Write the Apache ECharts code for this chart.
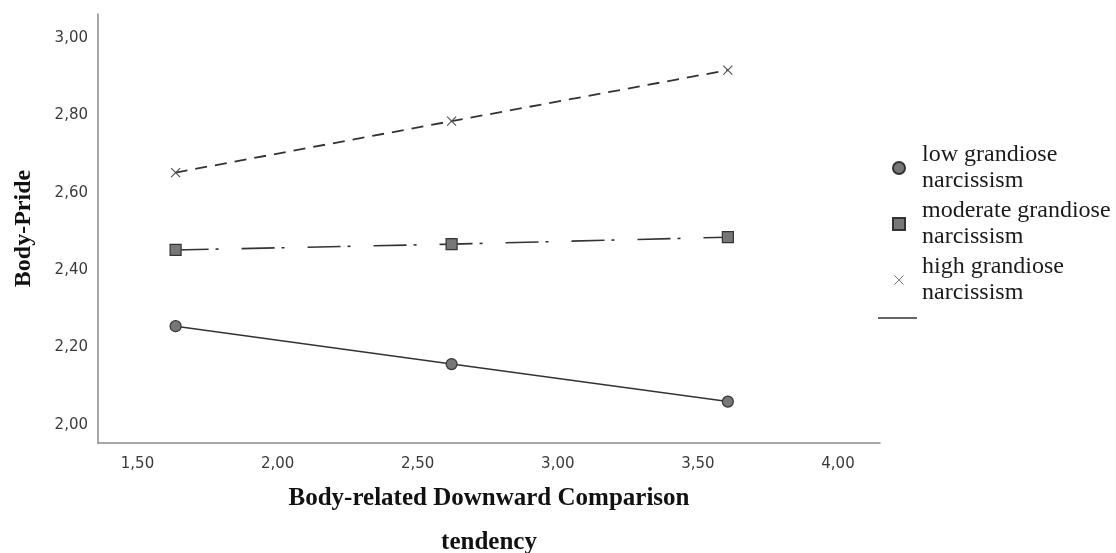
<!DOCTYPE html>
<html>
<head>
<meta charset="utf-8">
<script src="https://cdn.jsdelivr.net/npm/echarts@6/dist/echarts.min.js"></script>
<style>
html,body{margin:0;padding:0;background:#fff;}
#chart{width:1116px;height:553px;}
</style>
</head>
<body>
<div id="chart"></div>
<script>
// Data
const xValues = [1.636, 2.621, 3.607];
const seriesNames = ['low grandiose\nnarcissism', 'moderate grandiose\nnarcissism', 'high grandiose\nnarcissism'];
const lowValues = [2.255, 2.157, 2.060];
const moderateValues = [2.452, 2.467, 2.485];
const highValues = [2.652, 2.785, 2.917];
const xTickValues = [1.5, 2.0, 2.5, 3.0, 3.5, 4.0];
const yTickValues = [2.0, 2.2, 2.4, 2.6, 2.8, 3.0];
const xTitle = 'Body-related Downward Comparison\ntendency';
const yTitle = 'Body-Pride';

const fmt = v => v.toFixed(2).replace('.', ',');
const pairs = vals => xValues.map((x, i) => [x, vals[i]]);
const crossPath = 'path://M0,0L10,10M10,0L0,10';
const crossLegendPath = 'path://M0,0M1.5,1.5L10.5,10.5M10.5,1.5L1.5,10.5M12,12';

const chart = echarts.init(document.getElementById('chart'));
chart.setOption({
  animation: false,
  backgroundColor: '#fff',
  grid: { left: 98, right: 236, top: 14, bottom: 110, containLabel: false, outerBoundsMode: 'none' },
  xAxis: {
    type: 'value', min: 1.359, max: 4.15,
    name: xTitle, nameLocation: 'middle', nameGap: 31,
    nameTextStyle: { fontFamily: 'Liberation Serif', fontWeight: 'bold', fontSize: 25, lineHeight: 44, color: '#111' },
    axisLine: { show: true, lineStyle: { color: '#8a8a8a', width: 1.5 } },
    axisTick: { show: false },
    splitLine: { show: false },
    axisLabel: { customValues: xTickValues, formatter: fmt, fontFamily: 'DejaVu Sans', fontSize: 15, color: '#3a3a3a', margin: 14 }
  },
  yAxis: {
    type: 'value', min: 1.953, max: 3.062,
    name: yTitle, nameLocation: 'middle', nameGap: 62, nameRotate: 90,
    nameTextStyle: { fontFamily: 'Liberation Serif', fontWeight: 'bold', fontSize: 24, color: '#111' },
    axisLine: { show: true, lineStyle: { color: '#8a8a8a', width: 1.5 } },
    axisTick: { show: false },
    splitLine: { show: false },
    axisLabel: { customValues: yTickValues, formatter: fmt, fontFamily: 'DejaVu Sans', fontSize: 15, color: '#3a3a3a', margin: 10 }
  },
  legend: {
    orient: 'vertical', left: 887, top: 137, itemWidth: 12, itemHeight: 12, itemGap: 4,
    textStyle: { fontFamily: 'Liberation Serif', fontSize: 24, lineHeight: 26, color: '#1a1a1a', padding: [0, 0, 0, 12] },
    data: [
      { name: seriesNames[0], icon: 'circle' },
      { name: seriesNames[1], icon: 'rect' },
      { name: seriesNames[2], icon: crossLegendPath, itemStyle: { color: 'transparent', borderColor: '#777', borderWidth: 1 } }
    ]
  },
  graphic: [
    { type: 'line', shape: { x1: 878, y1: 318, x2: 917, y2: 318 }, style: { stroke: '#333', lineWidth: 1.5 } }
  ],
  series: [
    {
      name: seriesNames[0], type: 'line', data: pairs(lowValues),
      symbol: 'circle', symbolSize: 11,
      itemStyle: { color: '#777', borderColor: '#333', borderWidth: 1.2 },
      lineStyle: { color: '#333', width: 1.5, type: 'solid' }
    },
    {
      name: seriesNames[1], type: 'line', data: pairs(moderateValues),
      symbol: 'rect', symbolSize: 11,
      itemStyle: { color: '#777', borderColor: '#333', borderWidth: 1.2 },
      lineStyle: { color: '#333', width: 1.6, type: [33, 7, 3, 23] }
    },
    {
      name: seriesNames[2], type: 'line', data: pairs(highValues),
      symbol: crossPath, symbolSize: 9,
      itemStyle: { color: 'transparent', borderColor: '#555', borderWidth: 1.2 },
      lineStyle: { color: '#333', width: 1.8, type: [12, 8] }
    }
  ]
});
</script>
</body>
</html>
